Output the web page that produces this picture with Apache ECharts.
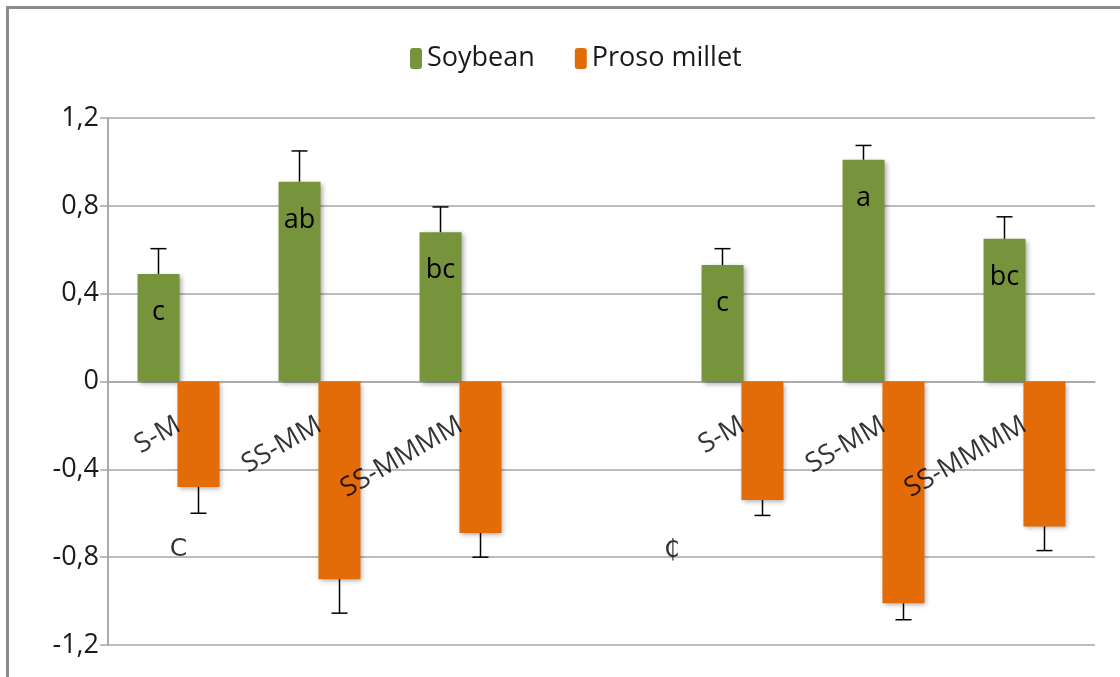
<!DOCTYPE html>
<html>
<head>
<meta charset="utf-8">
<script src="https://cdn.jsdelivr.net/npm/echarts@6/dist/echarts.min.js"></script>
<style>
  html, body { margin: 0; padding: 0; background: #fff; overflow: hidden; }
  #frame { position: absolute; left: 6px; top: 6px; width: 1300px; height: 900px;
           border: 3px solid #8c8c8c; box-sizing: border-box; }
  #chart { position: absolute; left: 0; top: 0; width: 1120px; height: 677px; }
</style>
</head>
<body>
<div id="frame"></div>
<div id="chart"></div>
<script>
// Planting patterns (empty slot separates the two experiments)
const categories = ['S-M', 'SS-MM', 'SS-MMMM', '', 'S-M', 'SS-MM', 'SS-MMMM'];

// Relative yield effect per crop
const soybean = [0.49, 0.91, 0.68, null, 0.53, 1.01, 0.65];
const prosoMillet = [-0.48, -0.90, -0.69, null, -0.54, -1.01, -0.66];

// Standard errors
const soybeanErr = [0.115, 0.14, 0.115, null, 0.075, 0.065, 0.10];
const prosoMilletErr = [0.12, 0.155, 0.11, null, 0.07, 0.075, 0.11];

// Significance letters shown on the soybean bars
const soybeanLetters = ['c', 'ab', 'bc', '', 'c', 'a', 'bc'];

// Loose text marks placed on the plot (x in category units)
const noteText = ['C', '₵'];
const noteX = [0, 3.5];
const noteY = [-0.765, -0.77];

// Value axis tick labels (decimal comma)
const yTickLabels = ['-1,2', '-0,8', '-0,4', '0', '0,4', '0,8', '1,2'];

const FONT = '"Open Sans", "Noto Sans", sans-serif';
const GREEN = '#77933c';
const ORANGE = '#e36c09';
const GRID = '#a6a6a6';
const BAR_W = 42;
const BAR_OFFSET = 20;
const FS = 27;

function errorBars(values, errs, dir, offset) {
  return {
    type: 'custom',
    silent: true,
    z: 5,
    renderItem: function (params, api) {
      const i = api.value(0);
      const v = api.value(1);
      const e = api.value(2);
      const base = api.coord([i, v]);
      const tip = api.coord([i, v + dir * e]);
      const x = base[0] + offset;
      const cap = 8;
      const style = { stroke: '#000', lineWidth: 1.5 };
      return {
        type: 'group',
        children: [
          { type: 'line', shape: { x1: x, y1: base[1], x2: x, y2: tip[1] }, style: style },
          { type: 'line', shape: { x1: x - cap, y1: tip[1], x2: x + cap, y2: tip[1] }, style: style }
        ]
      };
    },
    data: values.map((v, i) => (v == null ? null : [i, v, errs[i]])).filter(d => d)
  };
}

const chart = echarts.init(document.getElementById('chart'), null, { renderer: 'canvas' });

chart.setOption({
  animation: false,
  backgroundColor: 'transparent',
  textStyle: { fontFamily: FONT },
  legend: {
    top: 40,
    left: 405,
    itemWidth: 12,
    itemHeight: 21,
    itemGap: 40,
    textStyle: { fontFamily: FONT, fontSize: FS, color: '#1a1a1a' },
    data: ['Soybean', 'Proso millet']
  },
  grid: { left: 108, right: 25, top: 118, bottom: 32, containLabel: false, outerBoundsMode: 'none' },
  xAxis: [
    {
      type: 'category',
      data: categories,
      axisLine: { show: true, onZero: true, lineStyle: { color: GRID, width: 1.5 } },
      axisTick: { show: false },
      axisLabel: { show: false },
      splitLine: { show: false }
    },
    {
      // continuous twin of the category axis, for free-standing text
      type: 'value',
      min: -0.5,
      max: 6.5,
      show: false,
      splitLine: { show: false }
    }
  ],
  yAxis: {
    type: 'value',
    min: -1.2,
    max: 1.2,
    interval: 0.4,
    axisLine: { show: true, onZero: false, lineStyle: { color: GRID, width: 1.5 } },
    axisTick: { show: true, length: 8, lineStyle: { color: GRID, width: 1.5 } },
    axisLabel: {
      margin: 9,
      fontFamily: FONT,
      fontSize: FS,
      color: '#1a1a1a',
      formatter: function (v, idx) { return yTickLabels[idx]; }
    },
    splitLine: { show: true, lineStyle: { color: GRID, width: 1.5 } }
  },
  series: [
    {
      name: 'Soybean',
      type: 'bar',
      barWidth: BAR_W,
      barGap: '-5%',
      data: soybean,
      itemStyle: {
        color: GREEN,
        shadowColor: 'rgba(0,0,0,0.35)',
        shadowBlur: 5,
        shadowOffsetX: 2,
        shadowOffsetY: 2
      },
      label: {
        show: true,
        position: 'insideTop',
        distance: 25,
        fontFamily: FONT,
        fontSize: FS,
        color: '#000',
        formatter: p => soybeanLetters[p.dataIndex]
      }
    },
    {
      name: 'Proso millet',
      type: 'bar',
      barWidth: BAR_W,
      barGap: '-5%',
      data: prosoMillet,
      itemStyle: {
        color: ORANGE,
        shadowColor: 'rgba(0,0,0,0.35)',
        shadowBlur: 5,
        shadowOffsetX: 2,
        shadowOffsetY: 2
      }
    },
    errorBars(soybean, soybeanErr, 1, -BAR_OFFSET),
    errorBars(prosoMillet, prosoMilletErr, -1, BAR_OFFSET),
    {
      // category names, set at the zero line and slanted
      type: 'scatter',
      silent: true,
      symbolSize: 0,
      z: 6,
      data: categories.map((c, i) => [i, 0]),
      label: {
        show: true,
        position: 'inside',
        rotate: 30,
        align: 'right',
        verticalAlign: 'middle',
        offset: [-21, 36],
        fontFamily: FONT,
        fontSize: FS,
        color: '#000',
        formatter: p => categories[p.dataIndex]
      }
    },
    {
      type: 'scatter',
      silent: true,
      symbolSize: 0,
      xAxisIndex: 1,
      data: noteText.map((t, i) => [noteX[i], noteY[i]]),
      label: {
        show: true,
        position: 'inside',
        fontFamily: '"DejaVu Sans", ' + FONT,
        fontSize: 25,
        color: '#000',
        formatter: p => noteText[p.dataIndex]
      },
      // vertical axis rule along the left edge of the plot
      markLine: {
        silent: true,
        symbol: 'none',
        label: { show: false },
        lineStyle: { color: GRID, width: 1.5, type: 'solid' },
        data: [{ xAxis: -0.5 }]
      }
    }
  ]
});
</script>
</body>
</html>
